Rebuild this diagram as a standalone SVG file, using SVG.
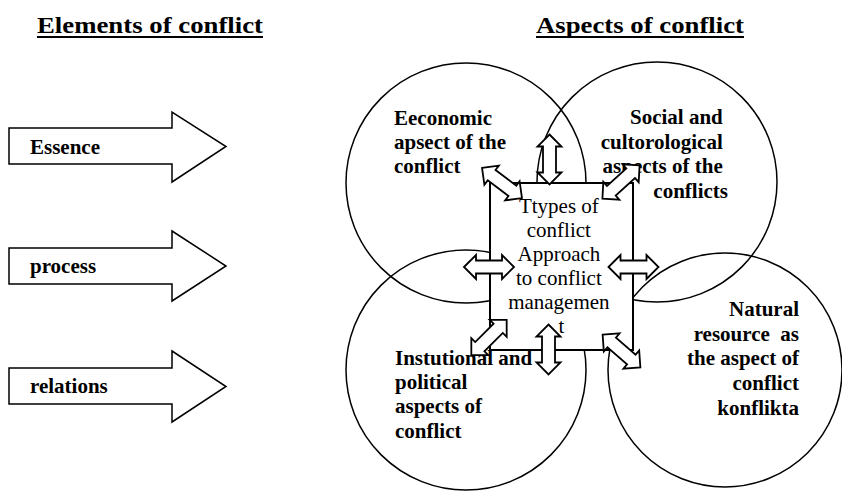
<svg xmlns="http://www.w3.org/2000/svg" width="842" height="491" viewBox="0 0 842 491">
<defs>
<path id="dblarrow" fill="#fff" stroke="#000" stroke-width="1.8" d="M -25 0 L -13 -12 L -13 -6.5 L 13 -6.5 L 13 -12 L 25 0 L 13 12 L 13 6.5 L -13 6.5 L -13 12 Z"/>
</defs>
<rect width="842" height="491" fill="#fff"/>

<g id="title-elements">
<text font-family="Liberation Serif" font-weight="bold" font-size="23" x="37" y="33" textLength="226" lengthAdjust="spacingAndGlyphs">Elements of conflict</text>
<rect x="37" y="36" width="226" height="2" fill="#000"/>
</g>
<g id="title-aspects">
<text font-family="Liberation Serif" font-weight="bold" font-size="23" x="536" y="33" textLength="208" lengthAdjust="spacingAndGlyphs">Aspects of conflict</text>
<rect x="536" y="36" width="208" height="2" fill="#000"/>
</g>

<g id="arrow-essence">
<polygon fill="#fff" stroke="#000" stroke-width="1.5" points="9,128 172,128 172,112 226,146.5 172,182 172,164 9,164"/>
<text font-family="Liberation Serif" font-weight="bold" font-size="21" x="30" y="154">Essence</text>
</g>
<g id="arrow-process">
<polygon fill="#fff" stroke="#000" stroke-width="1.5" points="9,248 172,248 172,231 226,266 172,301 172,284 9,284"/>
<text font-family="Liberation Serif" font-weight="bold" font-size="21" x="30" y="273">process</text>
</g>
<g id="arrow-relations">
<polygon fill="#fff" stroke="#000" stroke-width="1.5" points="9,368 172,368 172,351 226,386.5 172,422 172,404 9,404"/>
<text font-family="Liberation Serif" font-weight="bold" font-size="21" x="30" y="393">relations</text>
</g>

<g fill="none" stroke="#000" stroke-width="1.5">
<g id="circle-economic"><circle cx="466" cy="183" r="120"/></g>
<g id="circle-social"><circle cx="657" cy="182" r="120"/></g>
<g id="circle-institutional"><circle cx="466" cy="370" r="120"/></g>
<g id="circle-natural"><circle cx="725" cy="370" r="117"/></g>
</g>

<g id="center-box">
<rect x="490" y="183" width="143" height="167" fill="#fff" stroke="#000" stroke-width="2"/>
<text font-family="Liberation Serif" font-size="21" text-anchor="middle">
<tspan x="561.5" y="213">Ttypes of</tspan>
<tspan x="561.5" y="237">conflict</tspan>
<tspan x="561.5" y="261">Approach</tspan>
<tspan x="561.5" y="285">to conflict</tspan>
<tspan x="561.5" y="309">managemen</tspan>
<tspan x="561.5" y="333">t</tspan>
</text>
</g>

<g id="label-economic">
<text font-family="Liberation Serif" font-weight="bold" font-size="21">
<tspan x="394" y="125">Eeconomic</tspan>
<tspan x="394" y="149">apsect of the</tspan>
<tspan x="394" y="173">conflict</tspan>
</text>
</g>
<g id="label-social">
<text font-family="Liberation Serif" font-weight="bold" font-size="21" text-anchor="end">
<tspan x="728" y="124">Social and</tspan>
<tspan x="728" y="149">cultorological</tspan>
<tspan x="728" y="173">aspects of the</tspan>
<tspan x="728" y="198">conflicts</tspan>
</text>
</g>
<g id="label-institutional">
<text font-family="Liberation Serif" font-weight="bold" font-size="21">
<tspan x="395" y="365">Instutional and</tspan>
<tspan x="395" y="389">political</tspan>
<tspan x="395" y="413">aspects of</tspan>
<tspan x="395" y="438">conflict</tspan>
</text>
</g>
<g id="label-natural">
<text font-family="Liberation Serif" font-weight="bold" font-size="21" text-anchor="end" xml:space="preserve"><tspan x="799" y="316">Natural</tspan><tspan x="799" y="340.5">resource  as</tspan><tspan x="799" y="365">the aspect of</tspan><tspan x="799" y="390">conflict</tspan><tspan x="799" y="415">konflikta</tspan></text>
</g>

<g id="connectors">
<use href="#dblarrow" transform="translate(549.5,159.5) rotate(90)"/>
<use href="#dblarrow" transform="translate(502,183) rotate(37)"/>
<use href="#dblarrow" transform="translate(621,182) rotate(-42)"/>
<use href="#dblarrow" transform="translate(489,267)"/>
<use href="#dblarrow" transform="translate(633.5,267)"/>
<use href="#dblarrow" transform="translate(489,337.5) rotate(-45)"/>
<use href="#dblarrow" transform="translate(548.5,349.5) rotate(90)"/>
<use href="#dblarrow" transform="translate(621.5,351) rotate(41)"/>
</g>
</svg>
